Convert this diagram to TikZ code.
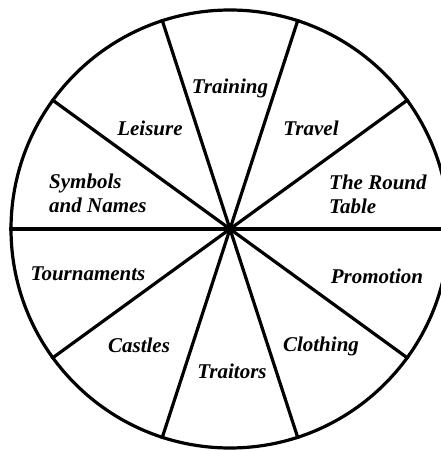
\documentclass[tikz,border=0pt]{standalone}
\usepackage{fontspec}
\setmainfont{Liberation Serif}
\begin{document}
\begin{tikzpicture}[x=1pt,y=1pt,
  rim/.style={draw=black, line width=3.2pt, circle, minimum size=438pt, inner sep=0pt},
  spoke/.style={draw=black, line width=3.2pt},
  lbl/.style={font=\fontsize{21}{24}\selectfont\bfseries\itshape, inner sep=1pt}]
\useasboundingbox (0,0) rectangle (441,451);
\fill[white] (0,0) rectangle (441,451);
\clip (0,0) rectangle (441,451);
\coordinate (c) at (230,222);
\node[rim] (wheel) at (c) {};
\foreach \a in {0,36,...,324} \draw[spoke] (c) -- (wheel.\a);
\node[lbl] (training) at (230,363) {Training};
\node[lbl] (leisure) at (150,323) {Leisure};
\node[lbl] (travel) at (311,323) {Travel};
\node[lbl, align=left, anchor=west] (symbols) at (48,258) {Symbols\\and Names};
\node[lbl, align=left, anchor=west] (round) at (328,257) {The Round\\Table};
\node[lbl] (tournaments) at (88,177) {Tournaments};
\node[lbl] (promotion) at (377,175) {Promotion};
\node[lbl] (castles) at (139,106) {Castles};
\node[lbl] (clothing) at (321,105) {Clothing};
\node[lbl] (traitors) at (232,80) {Traitors};
\end{tikzpicture}
\end{document}
